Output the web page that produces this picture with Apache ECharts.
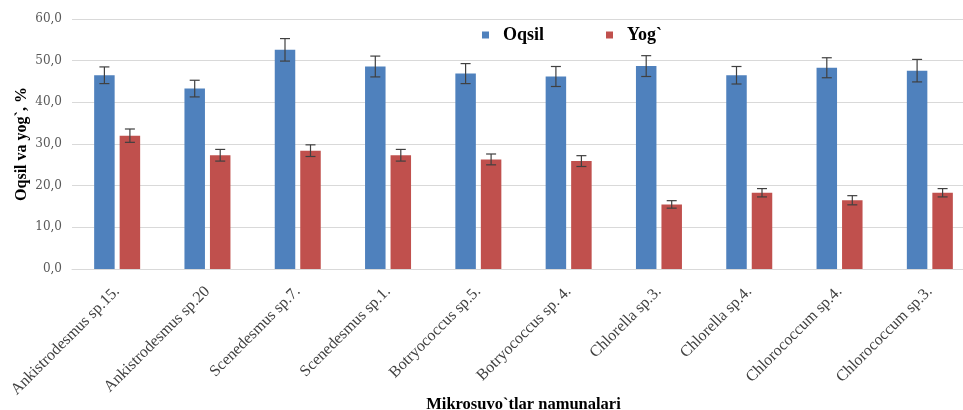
<!DOCTYPE html>
<html><head><meta charset="utf-8">
<script src="https://cdn.jsdelivr.net/npm/echarts@6/dist/echarts.min.js"></script>
<style>html,body{margin:0;padding:0;background:#fff}#c{width:963px;height:410px}</style>
</head><body><div id="c"></div>
<script>
const categories = ["Ankistrodesmus sp.15.","Ankistrodesmus sp.20","Scenedesmus sp.7.","Scenedesmus sp.1.","Botryococcus sp.5.","Botryococcus sp. 4.","Chlorella sp.3.","Chlorella sp.4.","Chlorococcum sp.4.","Chlorococcum sp.3."];
const oqsil = [46.5,43.3,52.6,48.6,46.9,46.2,48.7,46.5,48.3,47.6];
const oqsilErr = [2.0,2.0,2.7,2.5,2.4,2.4,2.5,2.1,2.4,2.7];
const yog = [32.0,27.3,28.4,27.3,26.3,25.9,15.5,18.3,16.5,18.3];
const yogErr = [1.6,1.4,1.4,1.4,1.3,1.3,0.9,1.0,1.1,1.0];
const yTicks = [0,10,20,30,40,50,60];

const BW = 20.5, GAP = 5;
const serif = '"Liberation Serif","DejaVu Serif",serif';
function errSeries(vals, errs, side){
  return {
    type:'custom', silent:true, z:5,
    data: vals.map((v,i)=>[i, v, errs[i]]),
    renderItem:function(params, api){
      const i = api.value(0), v = api.value(1), e = api.value(2);
      const c = api.coord([i, v]);
      const x = c[0] + side*(BW+GAP)/2;
      const top = api.coord([i, v+e])[1], bot = api.coord([i, v-e])[1];
      const st = {stroke:'#404040', lineWidth:1.2};
      return {type:'group', children:[
        {type:'line', shape:{x1:x,y1:top,x2:x,y2:bot}, style:st},
        {type:'line', shape:{x1:x-5,y1:top,x2:x+5,y2:top}, style:st},
        {type:'line', shape:{x1:x-5,y1:bot,x2:x+5,y2:bot}, style:st}
      ]};
    }
  };
}
const chart = echarts.init(document.getElementById('c'));
chart.setOption({
  animation:false,
  legend:{
    data:['Oqsil','Yog`'], top:21, left:477, itemWidth:7, itemHeight:7, itemGap:62,
    icon:'rect',
    textStyle:{fontFamily:serif, fontWeight:'bold', fontSize:18, color:'#000', padding:[0,0,0,9]}
  },
  grid:{left:72, top:19, width:903, bottom:141, outerBoundsMode:'none', containLabel:false},
  xAxis:{
    type:'category', data:categories,
    axisTick:{show:false},
    axisLine:{lineStyle:{color:'#d9d9d9'}},
    axisLabel:{rotate:45, interval:0, fontFamily:serif, fontSize:16, color:'#404040', margin:20},
    name:'Mikrosuvo`tlar namunalari', nameLocation:'middle', nameGap:127, nameMoveOverlap:false,
    nameTextStyle:{fontFamily:serif, fontWeight:'bold', fontSize:16.5, color:'#000'}
  },
  yAxis:{
    type:'value', min:yTicks[0], max:yTicks[yTicks.length-1], interval:10,
    axisLine:{show:false}, axisTick:{show:false},
    splitLine:{lineStyle:{color:'#d9d9d9'}},
    axisLabel:{formatter:v=>v.toFixed(1).replace('.',','), fontFamily:'"DejaVu Serif",serif', fontSize:12, color:'#595959', margin:10},
    name:'Oqsil va yog`, %', nameLocation:'middle', nameGap:42, nameMoveOverlap:false,
    nameTextStyle:{fontFamily:serif, fontWeight:'bold', fontSize:16, color:'#000'}
  },
  series:[
    {name:'Oqsil', type:'bar', data:oqsil, barWidth:BW, barGap:(GAP/BW*100)+'%', itemStyle:{color:'#4f81bd'}},
    {name:'Yog`', type:'bar', data:yog, barWidth:BW, itemStyle:{color:'#c0504d'}},
    errSeries(oqsil, oqsilErr, -1),
    errSeries(yog, yogErr, 1)
  ]
});
</script></body></html>
